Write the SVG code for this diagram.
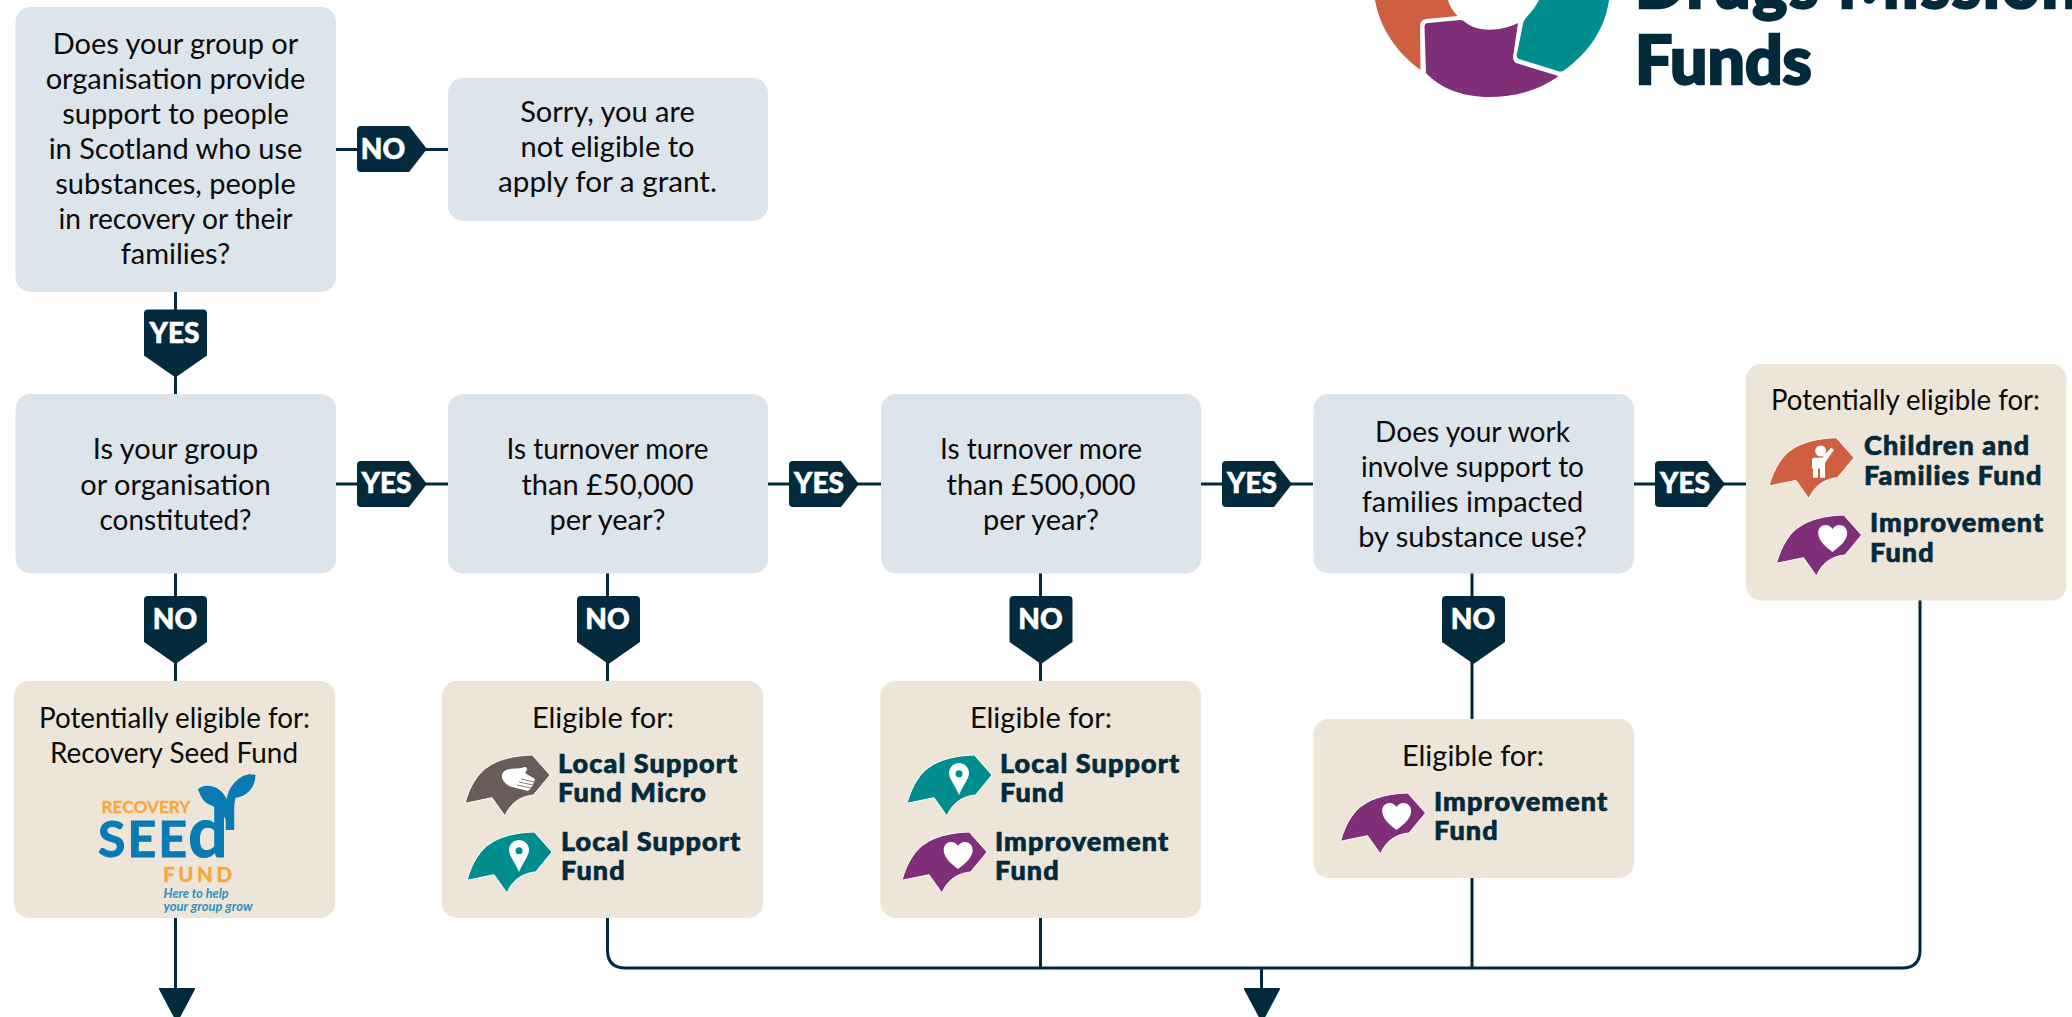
<svg xmlns="http://www.w3.org/2000/svg" xmlns:xlink="http://www.w3.org/1999/xlink" width="2072" height="1017" viewBox="0 0 2072 1017">
<style>
text{font-family:"Lato","Liberation Sans",sans-serif}
.q{fill:#dce4ec}.e{fill:#ede5d7}
.t{font-size:29px;fill:#0b0b0b;text-anchor:middle}
.b{font-size:27px;font-weight:900;fill:#022a3c;stroke:#022a3c;stroke-width:.7px;letter-spacing:1.1px}
.l{font-size:28px;font-weight:900;fill:#fff;stroke:#fff;stroke-width:.6px;text-anchor:middle}
.c{fill:none;stroke:#022a3c;stroke-width:3}
.tag{fill:#022a3c}
.bub{stroke:#fff;stroke-width:1;stroke-linejoin:round}
.title{font-size:66px;font-weight:900;fill:#022a3c;stroke:#022a3c;stroke-width:2.4px}
</style>
<defs>
<path id="tagh" d="M4,0H52L70,23L52,46H4Q0,46 0,42V4Q0,0 4,0Z"/>
<path id="tagv" d="M4,0H59Q63,0 63,4V46L31.5,68L0,46V4Q0,0 4,0Z"/>
<path id="ah" d="M-17,1H17L0,33Z" fill="#022a3c" stroke="#022a3c" stroke-width="2" stroke-linejoin="round"/>
<path id="bubble" d="M0,48.3C5,30 14,17 23,11.7C32,5 48,.5 67.3,0L85,20L68.5,40C58,41 46,46 40,61L27,42.7Z"/>
<path id="heart" fill="#fff" d="M56,37C48,31 41.7,25 41.7,18C41.7,13 45,10 49,10C52,10 55,12 56,14C57,12 60,10 63,10C67,10 70.7,13 70.7,18C70.7,25 64,31 56,37Z"/>
<path id="pin" fill="#fff" d="M52,40C48,30 42,24 42,18C42,12 47,8 52,8C57,8 62,12 62,18C62,24 56,30 52,40Z"/>
</defs>

<g id="logo">
<path fill="#cf5f41" d="M1375,0C1380,28 1396,52 1420.5,70L1420,26Q1420,20 1426,19L1457.5,16Q1450,8 1448,0Z"/>
<path fill="#7f2f78" d="M1424.5,27Q1424.5,23 1428,23L1460,20Q1463,20 1465,22C1476,32 1500,32 1518,23L1513,57Q1513,61 1516,63L1558.5,76C1540,90 1515,97 1489,97C1462,97 1440,88 1426,73Z"/>
<path fill="#008d8d" d="M1539,0C1535,8 1531,12 1526,18Q1523,21 1523,24L1516.7,55Q1516,58 1519,59L1558,71Q1561,72 1563,71C1590,52 1605,28 1609,0Z"/>
<text class="title" x="1635" y="8" textLength="444" lengthAdjust="spacing">Drugs Mission</text>
<text class="title" x="1635" y="84">Funds</text>
</g>

<g id="connectors">
<path class="c" d="M175.5,292V394M175.5,573V681M175.5,918V990M336,149.5H448M336,484H448M768,484H881M1201,484H1313M1634,484H1746M607.5,573V681M1040.5,573V681M1472,573V719"/>
<path class="c" d="M607.5,918V950Q607.5,968 625.5,968H1902Q1920,968 1920,950V600M1040.5,918V968M1472,878V968M1261.5,968V990"/>
<use xlink:href="#ah" href="#ah" x="177" y="988"/>
<use xlink:href="#ah" href="#ah" x="1262" y="988"/>
</g>

<g id="n1"><rect class="q" x="15.5" y="7" width="320.5" height="285" rx="15"/>
<text class="t" x="175.5" y="53.5">Does your group or</text><text class="t" x="175.5" y="88.5">organisation provide</text><text class="t" x="175.5" y="123.5">support to people</text><text class="t" x="175.5" y="158.5">in Scotland who use</text><text class="t" x="175.5" y="193.5">substances, people</text><text class="t" x="175.5" y="229" textLength="234" lengthAdjust="spacingAndGlyphs">in recovery or their</text><text class="t" x="175.5" y="264">families?</text></g>
<g id="n2"><rect class="q" x="448" y="78" width="320" height="143" rx="15"/>
<text class="t" x="607.5" y="121.5">Sorry, you are</text><text class="t" x="607.5" y="156.5">not eligible to</text><text class="t" x="607.5" y="191.5" textLength="219" lengthAdjust="spacingAndGlyphs">apply for a grant.</text></g>
<g id="n3"><rect class="q" x="15.5" y="394" width="320.5" height="179.5" rx="15"/>
<text class="t" x="175.5" y="459">Is your group</text><text class="t" x="175.5" y="494.5">or organisation</text><text class="t" x="175.5" y="529.5" textLength="152" lengthAdjust="spacingAndGlyphs">constituted?</text></g>
<g id="n4"><rect class="q" x="448" y="394" width="320" height="179.5" rx="15"/>
<text class="t" x="607.5" y="459" textLength="202" lengthAdjust="spacingAndGlyphs">Is turnover more</text><text class="t" x="607.5" y="494.5">than £50,000</text><text class="t" x="607.5" y="529.5">per year?</text></g>
<g id="n5"><rect class="q" x="881" y="394" width="320" height="179.5" rx="15"/>
<text class="t" x="1041" y="459" textLength="202" lengthAdjust="spacingAndGlyphs">Is turnover more</text><text class="t" x="1041" y="494.5">than £500,000</text><text class="t" x="1041" y="529.5">per year?</text></g>
<g id="n6"><rect class="q" x="1313.5" y="394" width="320.5" height="179.5" rx="15"/>
<text class="t" x="1472.5" y="441.7" textLength="195" lengthAdjust="spacingAndGlyphs">Does your work</text><text class="t" x="1472.5" y="476.7" textLength="223" lengthAdjust="spacingAndGlyphs">involve support to</text><text class="t" x="1472.5" y="511.7">families impacted</text><text class="t" x="1472.5" y="546.7">by substance use?</text></g>

<g id="n7"><rect class="e" x="14" y="681" width="321" height="237" rx="15"/>
<text class="t" x="174.5" y="727.5" textLength="271" lengthAdjust="spacingAndGlyphs">Potentially eligible for:</text><text class="t" x="174" y="762.5" textLength="248" lengthAdjust="spacingAndGlyphs">Recovery Seed Fund</text>
<g id="seed-logo">
<text x="101.5" y="813" font-size="17" font-weight="700" fill="#f9a63a" stroke="#f9a63a" stroke-width=".3" textLength="89" lengthAdjust="spacingAndGlyphs">RECOVERY</text>
<text x="98" y="857" font-size="50" font-weight="700" fill="#0a7ab5" stroke="#0a7ab5" stroke-width="1" letter-spacing="2">SEE<tspan font-size="70" letter-spacing="0" dx="-1">d</tspan></text>
<path fill="none" stroke="#0a7ab5" stroke-width="8.5" d="M230,830V808C230,795 235,782 251,778"/>
<path fill="#0a7ab5" d="M198,789C206,782 222,786 227,800C230,808 230,816 227,823C224,812 214,806 208,804C204,802 200,796 198,789Z"/>
<path fill="#0a7ab5" d="M255.5,775C255,788 247,797 234,798C231,798 230,794 232,788C236,778 245,773 255.5,775Z"/>
<text x="163" y="881.5" font-size="20.5" font-weight="700" fill="#f9a63a" stroke="#f9a63a" stroke-width=".5" textLength="69">FUND</text>
<text x="163.5" y="898" font-size="13" font-weight="700" font-style="italic" fill="#2f8fc0" textLength="65" lengthAdjust="spacingAndGlyphs">Here to help</text>
<text x="163.5" y="910.5" font-size="13" font-weight="700" font-style="italic" fill="#2f8fc0" textLength="89" lengthAdjust="spacingAndGlyphs">your group grow</text>
</g></g>

<g id="n8"><rect class="e" x="442" y="681" width="321" height="237" rx="15"/>
<text class="t" x="603" y="727.5">Eligible for:</text>
<g transform="translate(465,755)"><use xlink:href="#bubble" href="#bubble" class="bub" fill="#6a5c58"/>
<path fill="#fff" d="M41,15C45,13 55,14 60,12C63,12 62,16 60,18L70,24L69,27L68,30L66,33L63,36L47,32C40,30 36,24 37,20C37,18 39,16 41,15Z"/>
<path stroke="#6a5c58" stroke-width=".8" fill="none" d="M56,24L69,27M54,27L68,30M52,30L66,33"/></g>
<text class="b" x="558" y="772.7">Local Support</text><text class="b" x="558" y="801.7">Fund Micro</text>
<g transform="translate(467,832)"><use xlink:href="#bubble" href="#bubble" class="bub" fill="#008d8d"/><use xlink:href="#pin" href="#pin"/><circle cx="52" cy="18.7" r="3.5" fill="#008d8d"/></g>
<text class="b" x="561" y="850.7">Local Support</text><text class="b" x="561" y="879.5">Fund</text></g>

<g id="n9"><rect class="e" x="880.5" y="681" width="320.5" height="237" rx="15"/>
<text class="t" x="1041" y="727.5">Eligible for:</text>
<g transform="translate(907,755)"><use xlink:href="#bubble" href="#bubble" class="bub" fill="#008d8d"/><use xlink:href="#pin" href="#pin"/><circle cx="52" cy="18.7" r="3.5" fill="#008d8d"/></g>
<text class="b" x="1000" y="772.7">Local Support</text><text class="b" x="1000" y="801.7">Fund</text>
<g transform="translate(902,832)"><use xlink:href="#bubble" href="#bubble" class="bub" fill="#7f2f78"/><use xlink:href="#heart" href="#heart"/></g>
<text class="b" x="995" y="850.7">Improvement</text><text class="b" x="995" y="879.5">Fund</text></g>

<g id="n10"><rect class="e" x="1313.5" y="719" width="320.5" height="159" rx="15"/>
<text class="t" x="1473" y="765.5">Eligible for:</text>
<g transform="translate(1340.5,793)"><use xlink:href="#bubble" href="#bubble" class="bub" fill="#7f2f78"/><use xlink:href="#heart" href="#heart"/></g>
<text class="b" x="1434" y="810.7">Improvement</text><text class="b" x="1434" y="839.5">Fund</text></g>

<g id="n11"><rect class="e" x="1746" y="364" width="320.5" height="236.5" rx="15"/>
<text class="t" x="1905.5" y="410" textLength="269" lengthAdjust="spacingAndGlyphs">Potentially eligible for:</text>
<g transform="translate(1769,437.7)"><use xlink:href="#bubble" href="#bubble" class="bub" fill="#cf5f41"/>
<circle cx="51.7" cy="13.3" r="5.5" fill="#fff"/>
<path fill="#fff" d="M45,20H53L62,10L65,12L56,25V40H51V31H49V40H44V31H43V23Q43,20 45,20Z"/></g>
<text class="b" x="1864" y="455">Children and</text><text class="b" x="1864" y="484.7">Families Fund</text>
<g transform="translate(1776.5,515)"><use xlink:href="#bubble" href="#bubble" class="bub" fill="#7f2f78"/><use xlink:href="#heart" href="#heart"/></g>
<text class="b" x="1870" y="532">Improvement</text><text class="b" x="1870" y="561.7">Fund</text></g>

<g id="tags" class="tag">
<use xlink:href="#tagh" href="#tagh" x="357" y="126"/><text class="l" x="383" y="159">NO</text>
<use xlink:href="#tagv" href="#tagv" x="144" y="309.5"/><text class="l" x="174.5" y="343">YES</text>
<use xlink:href="#tagh" href="#tagh" x="357" y="461"/><text class="l" x="386.5" y="493">YES</text>
<use xlink:href="#tagh" href="#tagh" x="789" y="461"/><text class="l" x="819" y="493">YES</text>
<use xlink:href="#tagh" href="#tagh" x="1222" y="461"/><text class="l" x="1252" y="493">YES</text>
<use xlink:href="#tagh" href="#tagh" x="1655" y="461"/><text class="l" x="1685" y="493">YES</text>
<use xlink:href="#tagv" href="#tagv" x="144" y="596"/><text class="l" x="175" y="629">NO</text>
<use xlink:href="#tagv" href="#tagv" x="577" y="596"/><text class="l" x="607.5" y="629">NO</text>
<use xlink:href="#tagv" href="#tagv" x="1009.5" y="596"/><text class="l" x="1040.5" y="629">NO</text>
<use xlink:href="#tagv" href="#tagv" x="1442" y="596"/><text class="l" x="1473" y="629">NO</text>
</g>
</svg>
